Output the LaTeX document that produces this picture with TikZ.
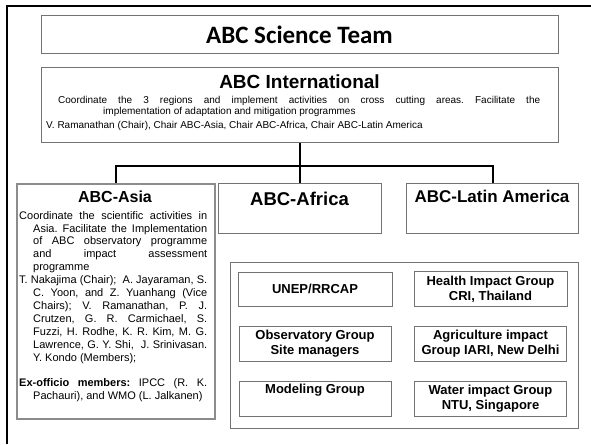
\documentclass[tikz,border=0pt]{standalone}
\usepackage{fontspec}
\setmainfont{Liberation Sans}
\newfontfamily\teamfont{Carlito}
\usetikzlibrary{positioning}
\frenchspacing

% justified line of a given width
\newcommand{\jline}[2]{\makebox[#1][s]{#2}}

\begin{document}
\begin{tikzpicture}[
    x=1pt, y=-1pt,
    box/.style={draw=black!55, line width=1pt, inner sep=0pt},
    region/.style={box, minimum height=50pt, anchor=north west},
    heading/.style={font=\fontsize{18}{21}\selectfont\bfseries},
    group/.style={box, minimum width=153pt, minimum height=35pt, align=center, font=\fontsize{13}{15}\selectfont\bfseries},
    link/.style={line width=2pt}
]
\useasboundingbox (0,0) rectangle (591,444);

% Outer frame
\draw[line width=2.5pt] (7,444) -- (7,6) -- (591,6);

% Top section
\node[box, minimum width=517pt, minimum height=38pt, font=\teamfont\fontsize{25}{30}\selectfont\bfseries] (team) at (299.5,35) {ABC Science Team};
\node[box, minimum width=517pt, minimum height=75pt, anchor=north west] (intl) at (41,67) {};
\node[font=\fontsize{19}{22}\selectfont\bfseries] (intltitle) at (299.5,82) {ABC International};
\node[anchor=north west, inner sep=0pt, align=left, font=\fontsize{10}{11}\selectfont] (intltext) at (46,96) {\hspace*{12pt}\jline{482pt}{Coordinate the 3 regions and implement activities on cross cutting areas. Facilitate the}\\
\hspace*{57pt}implementation of adaptation and mitigation programmes\\[3.5pt]
V. Ramanathan (Chair), Chair ABC-Asia, Chair ABC-Africa, Chair ABC-Latin America};

% Regions
\node[box, draw=black!45, line width=1.5pt, minimum width=198pt, minimum height=235pt, anchor=north west] (asia) at (16,183) {};
\node[region, minimum width=163pt] (africa) at (218,183) {};
\node[region, minimum width=172pt] (latam) at (406,183) {};
\node[heading, font=\fontsize{16}{19}\selectfont\bfseries] (asiatitle) at (115,197) {ABC-Asia};
\node[heading, font=\fontsize{18.5}{21}\selectfont\bfseries] (africatitle) at (299.5,199) {ABC-Africa};
\node[heading, font=\fontsize{17}{20}\selectfont\bfseries] (latamtitle) at (492,196) {ABC-Latin America};

\node[anchor=north west, inner sep=0pt, align=left, font=\fontsize{11}{12.9}\selectfont] (asiatext) at (19,211) {\jline{188pt}{Coordinate the scientific activities in}\\
\hspace*{14pt}\jline{174pt}{Asia. Facilitate the Implementation}\\
\hspace*{14pt}\jline{174pt}{of ABC observatory programme}\\
\hspace*{14pt}\jline{174pt}{and impact assessment}\\
\hspace*{14pt}programme\\
\jline{188pt}{T. Nakajima (Chair);\ \ A. Jayaraman, S.}\\
\hspace*{14pt}\jline{174pt}{C. Yoon, and Z. Yuanhang (Vice}\\
\hspace*{14pt}\jline{174pt}{Chairs); V. Ramanathan, P. J.}\\
\hspace*{14pt}\jline{174pt}{Crutzen, G. R. Carmichael, S.}\\
\hspace*{14pt}\jline{174pt}{Fuzzi, H. Rodhe, K. R. Kim, M. G.}\\
\hspace*{14pt}\jline{174pt}{Lawrence, G. Y. Shi,\ \ J. Srinivasan.}\\
\hspace*{14pt}Y. Kondo (Members);\\[12.9pt]
\jline{188pt}{\textbf{Ex-officio members:} IPCC (R. K.}\\
\hspace*{14pt}Pachauri), and WMO (L. Jalkanen)};

% Groups
\node[box, minimum width=348pt, minimum height=166pt, anchor=north west] (groups) at (230,262) {};
\node[group, minimum width=154pt, minimum height=34pt] (unep) at (315,289) {UNEP/RRCAP};
\node[group, right=21pt of unep] (health) {Health Impact Group\\CRI, Thailand};
\node[group, minimum width=152pt, below=19pt of unep] (obs) {Observatory Group\\Site managers};
\node[group, minimum width=152pt, below=19pt of health] (agri) {Agriculture impact\\Group IARI, New Delhi};
\node[group, minimum width=152pt, below=19pt of obs] (model) {Modeling Group\\\strut};
\node[group, minimum width=152pt, below=19pt of agri] (water) {Water impact Group\\NTU, Singapore};

% Connectors
\draw[link] (intl.south) -- ++(0,23) coordinate (split);
\draw[link] (asia.north) |- (split) -| (latam.north);
\draw[link] (split) -- (africa.north);

\end{tikzpicture}
\end{document}
